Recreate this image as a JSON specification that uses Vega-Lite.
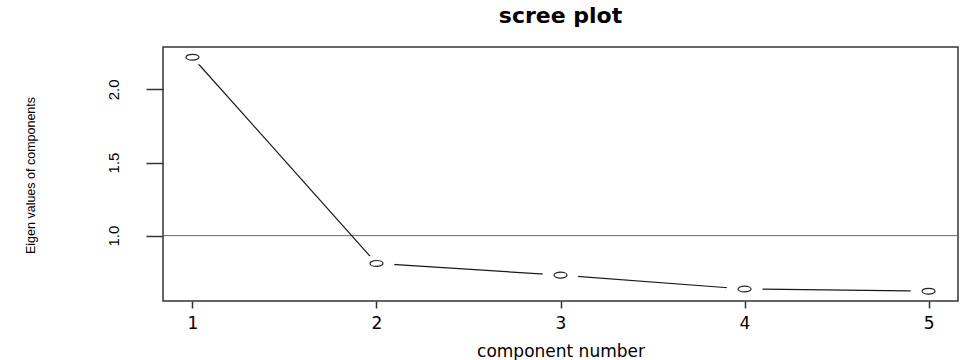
{
  "$schema": "https://vega.github.io/schema/vega-lite/v6.json",
  "width": 795,
  "height": 254,
  "autosize": {"type": "none"},
  "padding": {"left": 163, "top": 47, "right": 3, "bottom": 59},
  "background": "white",
  "title": {
    "text": "scree plot",
    "font": "DejaVu Sans",
    "fontSize": 22,
    "fontWeight": "bold",
    "color": "#000000",
    "baseline": "alphabetic",
    "anchor": "middle",
    "offset": 2
  },
  "config": {
    "view": {"stroke": "#333333", "strokeWidth": 1.5}
  },
  "data": {
    "values": [
      {"component": 1, "eigenvalue": 2.22},
      {"component": 2, "eigenvalue": 0.81},
      {"component": 3, "eigenvalue": 0.73},
      {"component": 4, "eigenvalue": 0.635},
      {"component": 5, "eigenvalue": 0.62}
    ]
  },
  "layer": [
    {
      "transform": [{"filter": "datum.component == 1"}],
      "mark": {"type": "rule", "color": "#666666", "strokeWidth": 1},
      "encoding": {
        "y": {"datum": 1, "type": "quantitative", "scale": {"domain": [0.553, 2.29], "nice": false, "zero": false}}
      }
    },
    {
      "mark": {"type": "line", "color": "#1a1a1a", "strokeWidth": 1.2},
      "encoding": {
        "x": {
          "field": "component",
          "type": "quantitative",
          "scale": {"domain": [0.84, 5.16], "nice": false, "zero": false},
          "axis": {
            "values": [1, 2, 3, 4, 5],
            "format": "d",
            "title": "component number",
            "domain": false,
            "grid": false,
            "tickSize": 7,
            "tickColor": "#333333",
            "tickWidth": 1.5,
            "labelFont": "DejaVu Sans",
            "labelFontSize": 17,
            "labelColor": "#000000",
            "labelBaseline": "alphabetic",
            "labelPadding": 20,
            "labelFlush": false,
            "titleFont": "DejaVu Sans",
            "titleFontSize": 17,
            "titleFontWeight": "normal",
            "titleColor": "#000000",
            "titleBaseline": "alphabetic",
            "titleY": 55
          }
        },
        "y": {
          "field": "eigenvalue",
          "type": "quantitative",
          "scale": {"domain": [0.553, 2.29], "nice": false, "zero": false},
          "axis": {
            "values": [1, 1.5, 2],
            "format": ".1f",
            "title": "Eigen values of components",
            "domain": false,
            "grid": false,
            "tickSize": 17,
            "tickColor": "#333333",
            "tickWidth": 1.5,
            "labelAngle": 270,
            "labelAlign": "center",
            "labelBaseline": "alphabetic",
            "labelPadding": 28,
            "labelFont": "Liberation Sans",
            "labelFontSize": 15,
            "labelColor": "#000000",
            "titleFont": "Liberation Sans",
            "titleFontSize": 12.5,
            "titleFontWeight": "normal",
            "titleColor": "#000000",
            "titleAngle": 270,
            "titleAlign": "center",
            "titleBaseline": "alphabetic",
            "titleX": -129,
            "titleY": 128
          }
        }
      }
    },
    {
      "mark": {
        "type": "point",
        "shape": "M -1 0 A 1 0.42 0 1 0 1 0 A 1 0.42 0 1 0 -1 0 Z",
        "size": 1296,
        "filled": true,
        "color": "white",
        "opacity": 1,
        "strokeWidth": 0
      },
      "encoding": {
        "x": {"field": "component", "type": "quantitative", "scale": {"domain": [0.84, 5.16], "nice": false, "zero": false}},
        "y": {"field": "eigenvalue", "type": "quantitative", "scale": {"domain": [0.553, 2.29], "nice": false, "zero": false}}
      }
    },
    {
      "mark": {
        "type": "point",
        "shape": "M -1 0 A 1 0.45 0 1 0 1 0 A 1 0.45 0 1 0 -1 0 Z",
        "size": 169,
        "filled": false,
        "color": "#222222",
        "opacity": 1,
        "strokeWidth": 1.2
      },
      "encoding": {
        "x": {"field": "component", "type": "quantitative", "scale": {"domain": [0.84, 5.16], "nice": false, "zero": false}},
        "y": {"field": "eigenvalue", "type": "quantitative", "scale": {"domain": [0.553, 2.29], "nice": false, "zero": false}}
      }
    }
  ]
}
